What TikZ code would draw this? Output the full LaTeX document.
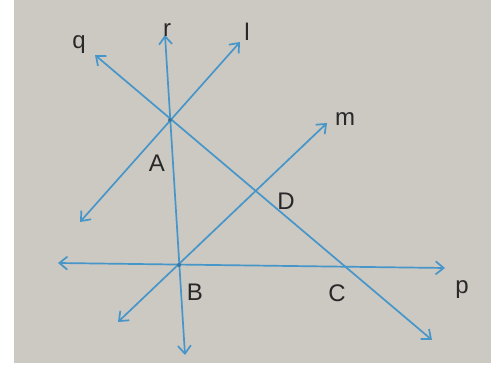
\documentclass[tikz,border=0pt]{standalone}
\usepackage{fontspec}
\setsansfont{Liberation Sans}
\usetikzlibrary{arrows.meta}
\definecolor{paper}{RGB}{204,200,194}
\definecolor{ink}{RGB}{70,150,202}
\definecolor{letter}{RGB}{40,40,40}
\begin{document}
\begin{tikzpicture}[x=1pt, y=-1pt,
        line/.style={ink, line width=1.7pt, {Straight Barb[length=8pt, width=13pt]}-{Straight Barb[length=8pt, width=13pt]}},
        lbl/.style={font=\sffamily\fontsize{24}{24}\selectfont, text=letter, inner sep=0pt},
        pt/.style={circle, fill=ink!80!black, inner sep=0pt, minimum size=4pt}
    ]

    % --- Page ---
    \useasboundingbox (0,0) rectangle (491,366);
    \fill[white] (0,0) rectangle (491,366);
    \fill[paper] (14,0) rectangle (491,363);

    % --- Points ---
    \coordinate (A) at (170,120);
    \coordinate (B) at (179,265);
    \coordinate (C) at (343,267);
    \coordinate (D) at (255,193);

    % --- Line ends ---
    \coordinate (r1) at (165,35);
    \coordinate (r2) at (185,355);
    \coordinate (q1) at (95,55);
    \coordinate (q2) at (432,340);
    \coordinate (l1) at (240,42);
    \coordinate (l2) at (80,222);
    \coordinate (m1) at (327,123);
    \coordinate (m2) at (118,322);
    \coordinate (p1) at (58,263);
    \coordinate (p2) at (445,268);

    % --- Lines ---
    \draw[line] (r1) -- (r2);
    \draw[line] (q1) -- (q2);
    \draw[line] (l1) -- (l2);
    \draw[line] (m1) -- (m2);
    \draw[line] (p1) -- (p2);

    \node[pt] (dotA) at (A) {};
    \node[pt] (dotB) at (B) {};

    % --- Labels ---
    \node[lbl] (labq) at (79,45) {q};
    \node[lbl] (labr) at (167,30) {r};
    \node[lbl] (labl) at (247,32) {l};
    \node[lbl] (labm) at (345,119) {m};
    \node[lbl] (labp) at (462,290) {p};
    \node[lbl] (labA) at (157,163) {A};
    \node[lbl] (labB) at (195,292) {B};
    \node[lbl] (labC) at (337,293) {C};
    \node[lbl] (labD) at (286,201) {D};

\end{tikzpicture}
\end{document}
